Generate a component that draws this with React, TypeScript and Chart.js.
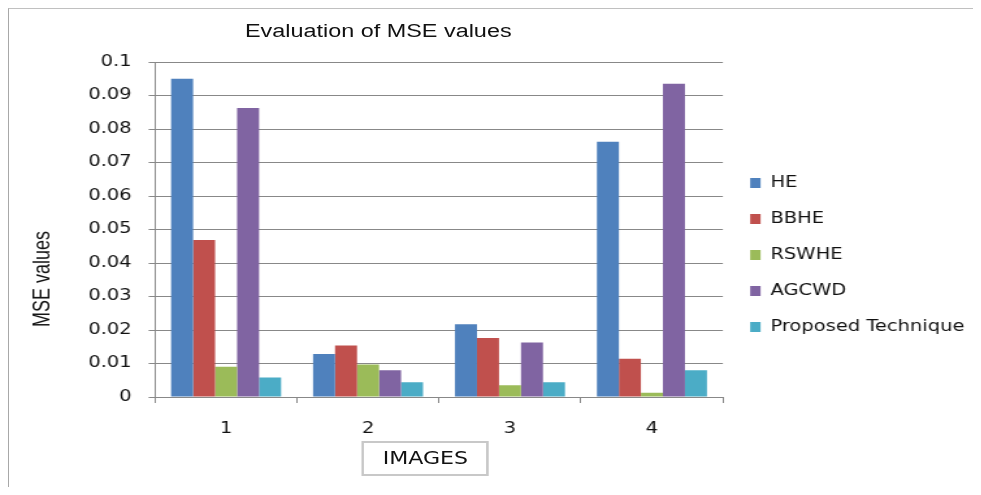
import React, { useEffect, useRef } from "react";
import { Chart, registerables } from "chart.js";

Chart.register(...registerables);

// ---- data ----
const categories = ["1", "2", "3", "4"];
const seriesNames = ["HE", "BBHE", "RSWHE", "AGCWD", "Proposed Technique"];
const heValues = [0.095, 0.0128, 0.0217, 0.0762];
const bbheValues = [0.0469, 0.0154, 0.0176, 0.0114];
const rswheValues = [0.009, 0.0097, 0.0035, 0.0013];
const agcwdValues = [0.0863, 0.008, 0.0163, 0.0935];
const proposedValues = [0.0058, 0.0044, 0.0044, 0.008];
const seriesColors = ["#4F81BD", "#C0504D", "#9BBB59", "#8064A2", "#4BACC6"];
const yMin = 0;
const yMax = 0.1;
const yStep = 0.01;
const chartTitle = "Evaluation of MSE values";
const yAxisTitle = "MSE values";
const xAxisTitle = "IMAGES";

const STRETCH = 1.3;
const W = 747;
const H = 478;

export default function App() {
  const canvasRef = useRef<HTMLCanvasElement | null>(null);

  useEffect(() => {
    const canvas = canvasRef.current;
    if (!canvas) return;
    const seriesValues = [heValues, bbheValues, rswheValues, agcwdValues, proposedValues];
    const tickFont = { family: "'DejaVu Sans', Verdana, sans-serif", size: 15 };
    const chart = new Chart(canvas, {
      type: "bar",
      data: {
        labels: categories,
        datasets: seriesNames.map((name, i) => ({
          label: name,
          data: seriesValues[i],
          backgroundColor: seriesColors[i],
          borderWidth: 0,
          categoryPercentage: 0.775,
          barPercentage: 1,
        })),
      },
      options: {
        animation: false,
        responsive: false,
        devicePixelRatio: 1,
        layout: { padding: { top: 53, bottom: 49, left: 48, right: 2 } },
        plugins: {
          title: { display: false },
          tooltip: { enabled: false },
          legend: {
            display: true,
            position: "right",
            align: "center",
            maxWidth: 220,
            title: { display: true, text: "", font: { size: 5, lineHeight: 2 }, padding: 0 },
            labels: {
              boxWidth: 8,
              boxHeight: 10,
              padding: 21,
              color: "#111",
              font: { family: "'DejaVu Sans', Verdana, sans-serif", size: 15 },
            },
          },
        },
        scales: {
          x: {
            afterFit: (scale: any) => {
              scale.height = 41;
            },
            grid: {
              display: true,
              drawOnChartArea: false,
              drawTicks: true,
              tickLength: 6,
              color: "#888",
              offset: true,
            },
            border: { display: true, color: "#888", width: 1 },
            ticks: { font: tickFont, color: "#111", padding: 17 },
          },
          y: {
            min: yMin,
            max: yMax,
            grid: { color: "#888", tickLength: 5, drawTicks: true, lineWidth: 1 },
            border: { display: true, color: "#888", width: 1 },
            ticks: {
              stepSize: yStep,
              font: tickFont,
              color: "#111",
              padding: 13,
              callback: (v: any) => String(Number(Number(v).toFixed(3))),
            },
          },
        },
      },
    });
    return () => chart.destroy();
  }, []);

  return (
    <div
      style={{
        position: "relative",
        width: 971,
        height: 478,
        borderLeft: "1px solid #a8a8a8",
        borderTop: "1px solid #c0c0c0",
        overflow: "hidden",
        background: "#fff",
      }}
    >
      <div
        style={{
          position: "absolute",
          left: 0,
          top: 0,
          width: W,
          height: H,
          transform: `scaleX(${STRETCH})`,
          transformOrigin: "0 0",
        }}
      >
        <canvas
          ref={canvasRef}
          width={W}
          height={H}
          style={{ position: "absolute", left: 0, top: 0, width: W, height: H }}
        />
        <div
          style={{
            position: "absolute",
            left: 181.5,
            top: 12.5,
            font: "18px/18px 'Liberation Sans', Arial, sans-serif",
            color: "#111",
            whiteSpace: "nowrap",
          }}
        >
          {chartTitle}
        </div>
        <div
          style={{
            position: "absolute",
            left: 25.4,
            top: 270,
            transform: "translate(-50%, -50%) rotate(-90deg)",
            font: "18px/20px 'Liberation Sans', Arial, sans-serif",
            color: "#111",
            whiteSpace: "nowrap",
          }}
        >
          {yAxisTitle}
        </div>
        <div
          style={{
            position: "absolute",
            left: 271.3,
            top: 431.7,
            width: 98,
            height: 35,
            boxSizing: "border-box",
            border: "2px solid #c8c8c8",
            display: "flex",
            alignItems: "center",
            justifyContent: "center",
            font: "17px 'DejaVu Sans', Verdana, sans-serif",
            color: "#111",
            whiteSpace: "nowrap",
          }}
        >
          {xAxisTitle}
        </div>
      </div>
    </div>
  );
}
